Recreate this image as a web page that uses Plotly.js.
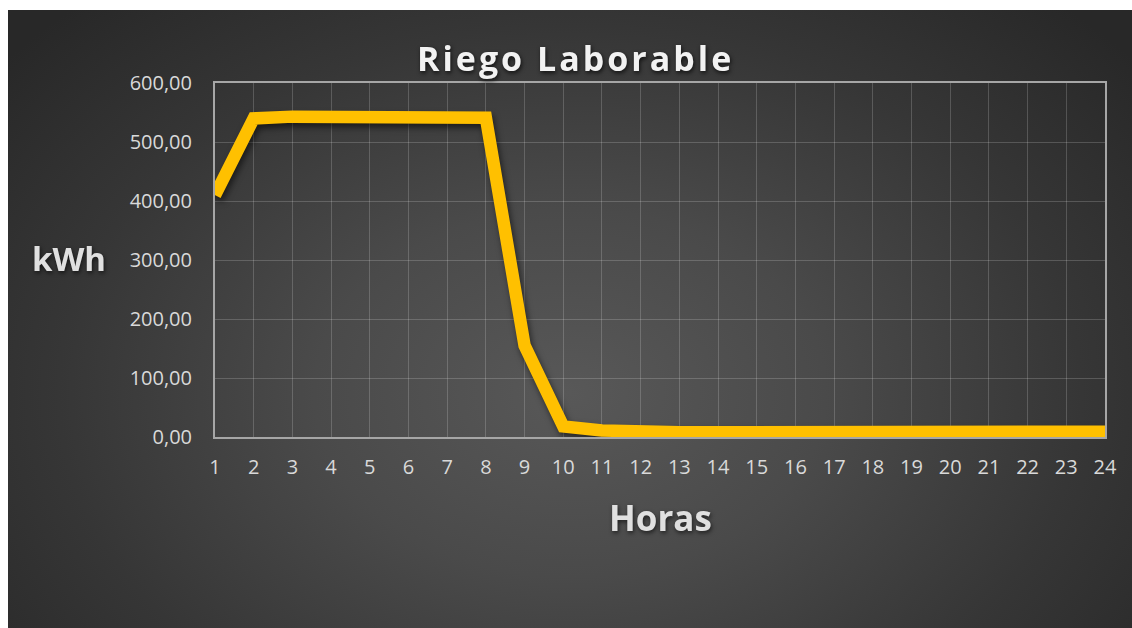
<!DOCTYPE html>
<html>
<head>
<meta charset="utf-8">
<script src="https://cdn.plot.ly/plotly-3.0.1.min.js"></script>
<style>
  html, body { margin: 0; padding: 0; background: #ffffff; width: 1132px; height: 628px; overflow: hidden; }
  #chart {
    position: absolute; left: 8px; top: 10px; width: 1124px; height: 618px;
    background: radial-gradient(ellipse 65% 85% at 50% 62%, #585858 0%, #4a4a4a 35%, #363636 70%, #282828 100%);
  }
  #chart .scatterlayer { filter: drop-shadow(2px 4px 3px rgba(0,0,0,0.55)); }
  #chart .gtitle { letter-spacing: 3px; filter: drop-shadow(1px 2px 2px rgba(0,0,0,0.7)); }
  #chart .annotation-text { filter: drop-shadow(1px 2px 2px rgba(0,0,0,0.6)); }
</style>
</head>
<body>
<div id="chart"></div>
<script>
const hours = [1,2,3,4,5,6,7,8,9,10,11,12,13,14,15,16,17,18,19,20,21,22,23,24];
const kwh   = [410,540,543,542,542,544,543,541,155,18,11,8,8,8,8,7,11,8,7,8,7,7,7,9];
const titleText = 'Riego Laborable';
const xTitle = 'Horas';
const yTitle = 'kWh';

const trace = {
  x: hours, y: kwh, type: 'scatter', mode: 'lines',
  line: { color: '#FFC000', width: 12.5 },
  hoverinfo: 'skip'
};

const layout = {
  width: 1124, height: 618,
  paper_bgcolor: 'rgba(0,0,0,0)',
  plot_bgcolor: 'rgba(0,0,0,0)',
  separators: ',.',
  margin: { l: 207, r: 27, t: 73, b: 191 },
  showlegend: false,
  font: { family: 'Open Sans, sans-serif', color: '#d9d9d9' },
  title: {
    text: '<b>' + titleText + '</b>',
    font: { family: 'Open Sans, sans-serif', size: 34, color: '#f2f2f2' },
    x: 0.505, xanchor: 'center', y: 0.92, yanchor: 'middle'
  },
  xaxis: {
    range: [1, 24], tickmode: 'linear', tick0: 1, dtick: 1,
    showgrid: true, gridcolor: 'rgba(255,255,255,0.18)', gridwidth: 1,
    showline: true, linecolor: '#a6a6a6', linewidth: 2, mirror: true,
    zeroline: false, ticks: '',
    tickfont: { size: 20, color: '#d9d9d9' },
    ticklabelstandoff: 11
  },
  yaxis: {
    range: [0, 600], tickmode: 'linear', tick0: 0, dtick: 100,
    tickformat: '.2f',
    showgrid: true, gridcolor: 'rgba(255,255,255,0.18)', gridwidth: 1,
    showline: true, linecolor: '#a6a6a6', linewidth: 2, mirror: true,
    zeroline: false, ticks: '',
    tickfont: { size: 20, color: '#d9d9d9' },
    ticklabelstandoff: 17
  },
  annotations: [
    {
      text: '<b>' + yTitle + '</b>', xref: 'paper', yref: 'paper',
      x: -0.164, y: 0.505, xanchor: 'center', yanchor: 'middle',
      showarrow: false, font: { size: 33, color: '#e0e0e0', family: 'Open Sans, sans-serif' }
    },
    {
      text: '<b>' + xTitle + '</b>', xref: 'paper', yref: 'paper',
      x: 0.5, y: -0.226, xanchor: 'center', yanchor: 'middle',
      showarrow: false, font: { size: 35, color: '#e0e0e0', family: 'Open Sans, sans-serif' }
    }
  ]
};

Plotly.newPlot('chart', [trace], layout, { displayModeBar: false, staticPlot: true });
</script>
</body>
</html>
